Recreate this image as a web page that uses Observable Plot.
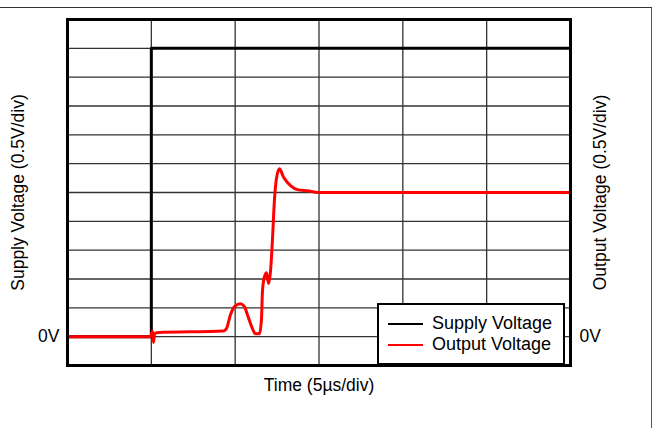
<!DOCTYPE html>
<html>
<head>
<meta charset="utf-8">
<script src="https://cdn.jsdelivr.net/npm/d3@7"></script>
<script src="https://cdn.jsdelivr.net/npm/@observablehq/plot@0.6"></script>
<style>
  html, body { margin: 0; padding: 0; background: #fff; }
  #wrap { position: relative; width: 654px; height: 428px; overflow: hidden; font-family: "Liberation Sans", Arial, sans-serif; }
  #border { position: absolute; left: -2px; top: 7px; width: 653px; height: 430px; border-top: 1px solid #333; border-right: 1px solid #555; }
  #legend { position: absolute; left: 377px; top: 303px; width: 184px; height: 58px; border: 2px solid #000; background: #fff; font-size: 18px; color: #000; }
  .row { position: absolute; left: 0; display: flex; align-items: center; }
  .sw { display: inline-block; width: 35px; height: 0; border-top: 2.5px solid; margin-left: 9px; margin-right: 9px; }
  svg { position: absolute; left: 0; top: 0; }
</style>
</head>
<body>
<div id="wrap">
  <div id="border"></div>
  <div id="chart"></div>
  <div id="legend"></div>
</div>
<script>
// Time in µs (5 µs/div), voltage in V (0.5 V/div)
const xTicks = [0, 5, 10, 15, 20, 25, 30];
const yTicks = [-0.5, 0, 0.5, 1, 1.5, 2, 2.5, 3, 3.5, 4, 4.5, 5, 5.5];

const supplyT = [0, 5, 5, 30];
const supplyV = [0, 0, 5, 5];

const outputT = [0, 4.95, 5.07, 5.13, 5.19, 5.31, 9.3, 9.48, 9.72, 9.96, 10.32, 10.55, 10.79, 11.03, 11.21, 11.45, 11.57, 11.63, 11.75, 11.87, 11.99, 12.11, 12.22, 12.34, 12.46, 12.64, 12.88, 13.3, 13.72, 14.31, 14.97, 30];
const outputV = [0, 0, 0.10, -0.10, 0.05, 0.07, 0.10, 0.14, 0.38, 0.52, 0.57, 0.52, 0.33, 0.14, 0.05, 0.05, 0.31, 0.80, 1.04, 1.11, 0.92, 1.14, 1.66, 2.36, 2.74, 2.91, 2.77, 2.62, 2.55, 2.53, 2.50, 2.50];

const seriesNames = ["Supply Voltage", "Output Voltage"];
const seriesColors = ["#000000", "#ff0000"];

const supply = supplyT.map((t, i) => ({t, v: supplyV[i]}));
const output = outputT.map((t, i) => ({t, v: outputV[i]}));

const plot = Plot.plot({
  width: 654,
  height: 428,
  marginLeft: 67,
  marginRight: 84,
  marginTop: 19,
  marginBottom: 63,
  style: {fontFamily: "Liberation Sans, Arial, sans-serif", fontSize: "17.5px", color: "#000", background: "transparent"},
  x: {domain: [0, 30]},
  y: {domain: [-0.5, 5.5]},
  marks: [
    Plot.ruleX(xTicks, {stroke: "#333", strokeWidth: 1.3}),
    Plot.ruleY(yTicks, {stroke: "#333", strokeWidth: 1.3}),
    Plot.line(supply, {x: "t", y: "v", stroke: seriesColors[0], strokeWidth: 3, curve: "linear"}),
    Plot.line(output, {x: "t", y: "v", stroke: seriesColors[1], strokeWidth: 3, curve: "monotone-x"}),
    Plot.frame({stroke: "#000", strokeWidth: 3}),
    Plot.axisX({ticks: [], label: "Time (5µs/div)", labelAnchor: "center", labelArrow: "none", labelOffset: 25}),
    Plot.axisY({anchor: "left", ticks: [0], tickFormat: () => "0V", tickSize: 0, tickPadding: 8, label: "Supply Voltage (0.5V/div)", labelAnchor: "center", labelArrow: "none", labelOffset: 56}),
    Plot.axisY({anchor: "right", ticks: [0], tickFormat: () => "0V", tickSize: 0, tickPadding: 9, label: "Output Voltage (0.5V/div)", labelAnchor: "center", labelArrow: "none", labelOffset: 35})
  ]
});
document.getElementById("chart").appendChild(plot);

const legend = document.getElementById("legend");
seriesNames.forEach((name, i) => {
  const row = document.createElement("div");
  row.className = "row";
  row.style.top = (8 + i * 21) + "px";
  const sw = document.createElement("span");
  sw.className = "sw";
  sw.style.borderTopColor = seriesColors[i];
  const label = document.createElement("span");
  label.textContent = name;
  row.appendChild(sw);
  row.appendChild(label);
  legend.appendChild(row);
});
</script>
</body>
</html>
